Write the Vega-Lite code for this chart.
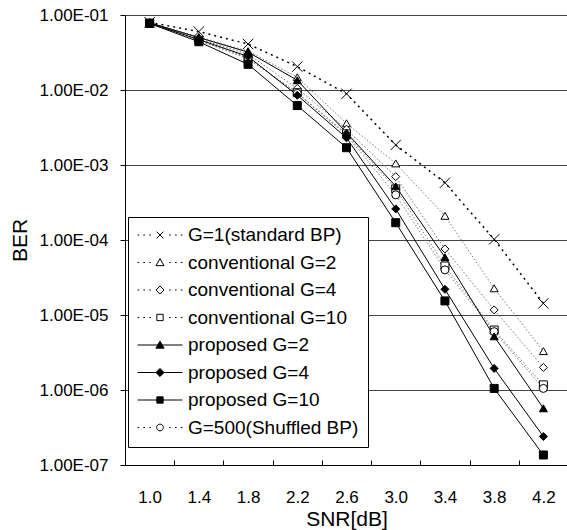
{
  "$schema": "https://vega.github.io/schema/vega-lite/v6.json",
  "width": 443,
  "height": 450,
  "autosize": {"type": "none"},
  "padding": {"left": 125, "top": 15, "right": 0, "bottom": 65},
  "background": "white",
  "config": {
    "font": "Liberation Sans",
    "view": {"stroke": null}
  },
  "data": {"values": [
    {"snr": "1.0", "series": "G=1(standard BP)", "ber": 0.08},
    {"snr": "1.4", "series": "G=1(standard BP)", "ber": 0.06},
    {"snr": "1.8", "series": "G=1(standard BP)", "ber": 0.041},
    {"snr": "2.2", "series": "G=1(standard BP)", "ber": 0.0205},
    {"snr": "2.6", "series": "G=1(standard BP)", "ber": 0.0089},
    {"snr": "3.0", "series": "G=1(standard BP)", "ber": 0.00185},
    {"snr": "3.4", "series": "G=1(standard BP)", "ber": 0.00058},
    {"snr": "3.8", "series": "G=1(standard BP)", "ber": 0.000102},
    {"snr": "4.2", "series": "G=1(standard BP)", "ber": 0.0000143},
    {"snr": "1.0", "series": "conventional G=2", "ber": 0.079},
    {"snr": "1.4", "series": "conventional G=2", "ber": 0.051},
    {"snr": "1.8", "series": "conventional G=2", "ber": 0.033},
    {"snr": "2.2", "series": "conventional G=2", "ber": 0.0148},
    {"snr": "2.6", "series": "conventional G=2", "ber": 0.0036},
    {"snr": "3.0", "series": "conventional G=2", "ber": 0.00105},
    {"snr": "3.4", "series": "conventional G=2", "ber": 0.00021},
    {"snr": "3.8", "series": "conventional G=2", "ber": 0.0000227},
    {"snr": "4.2", "series": "conventional G=2", "ber": 0.0000033},
    {"snr": "1.0", "series": "conventional G=4", "ber": 0.079},
    {"snr": "1.4", "series": "conventional G=4", "ber": 0.048},
    {"snr": "1.8", "series": "conventional G=4", "ber": 0.03},
    {"snr": "2.2", "series": "conventional G=4", "ber": 0.0105},
    {"snr": "2.6", "series": "conventional G=4", "ber": 0.003},
    {"snr": "3.0", "series": "conventional G=4", "ber": 0.0007},
    {"snr": "3.4", "series": "conventional G=4", "ber": 0.000076},
    {"snr": "3.8", "series": "conventional G=4", "ber": 0.0000117},
    {"snr": "4.2", "series": "conventional G=4", "ber": 0.000002},
    {"snr": "1.0", "series": "conventional G=10", "ber": 0.078},
    {"snr": "1.4", "series": "conventional G=10", "ber": 0.046},
    {"snr": "1.8", "series": "conventional G=10", "ber": 0.026},
    {"snr": "2.2", "series": "conventional G=10", "ber": 0.0092},
    {"snr": "2.6", "series": "conventional G=10", "ber": 0.0026},
    {"snr": "3.0", "series": "conventional G=10", "ber": 0.00048},
    {"snr": "3.4", "series": "conventional G=10", "ber": 0.000045},
    {"snr": "3.8", "series": "conventional G=10", "ber": 0.0000063},
    {"snr": "4.2", "series": "conventional G=10", "ber": 0.00000117},
    {"snr": "1.0", "series": "proposed G=2", "ber": 0.079},
    {"snr": "1.4", "series": "proposed G=2", "ber": 0.05},
    {"snr": "1.8", "series": "proposed G=2", "ber": 0.032},
    {"snr": "2.2", "series": "proposed G=2", "ber": 0.0135},
    {"snr": "2.6", "series": "proposed G=2", "ber": 0.0027},
    {"snr": "3.0", "series": "proposed G=2", "ber": 0.00052},
    {"snr": "3.4", "series": "proposed G=2", "ber": 0.000059},
    {"snr": "3.8", "series": "proposed G=2", "ber": 0.0000052},
    {"snr": "4.2", "series": "proposed G=2", "ber": 0.00000057},
    {"snr": "1.0", "series": "proposed G=4", "ber": 0.078},
    {"snr": "1.4", "series": "proposed G=4", "ber": 0.047},
    {"snr": "1.8", "series": "proposed G=4", "ber": 0.028},
    {"snr": "2.2", "series": "proposed G=4", "ber": 0.0085},
    {"snr": "2.6", "series": "proposed G=4", "ber": 0.0023},
    {"snr": "3.0", "series": "proposed G=4", "ber": 0.00026},
    {"snr": "3.4", "series": "proposed G=4", "ber": 0.000022},
    {"snr": "3.8", "series": "proposed G=4", "ber": 0.00000194},
    {"snr": "4.2", "series": "proposed G=4", "ber": 0.00000024},
    {"snr": "1.0", "series": "proposed G=10", "ber": 0.077},
    {"snr": "1.4", "series": "proposed G=10", "ber": 0.044},
    {"snr": "1.8", "series": "proposed G=10", "ber": 0.022},
    {"snr": "2.2", "series": "proposed G=10", "ber": 0.0062},
    {"snr": "2.6", "series": "proposed G=10", "ber": 0.0017},
    {"snr": "3.0", "series": "proposed G=10", "ber": 0.00017},
    {"snr": "3.4", "series": "proposed G=10", "ber": 0.0000154},
    {"snr": "3.8", "series": "proposed G=10", "ber": 0.00000105},
    {"snr": "4.2", "series": "proposed G=10", "ber": 0.000000136},
    {"snr": "1.0", "series": "G=500(Shuffled BP)", "ber": 0.078},
    {"snr": "1.4", "series": "G=500(Shuffled BP)", "ber": 0.046},
    {"snr": "1.8", "series": "G=500(Shuffled BP)", "ber": 0.027},
    {"snr": "2.2", "series": "G=500(Shuffled BP)", "ber": 0.009},
    {"snr": "2.6", "series": "G=500(Shuffled BP)", "ber": 0.0025},
    {"snr": "3.0", "series": "G=500(Shuffled BP)", "ber": 0.0004},
    {"snr": "3.4", "series": "G=500(Shuffled BP)", "ber": 0.00004},
    {"snr": "3.8", "series": "G=500(Shuffled BP)", "ber": 0.000006},
    {"snr": "4.2", "series": "G=500(Shuffled BP)", "ber": 0.00000105}
  ]},
  "encoding": {
    "x": {
      "field": "snr", "type": "ordinal", "bandPosition": 0.5,
      "scale": {"type": "band", "paddingInner": 0, "paddingOuter": 0},
      "axis": {
        "title": "SNR[dB]", "labelAngle": 0, "tickBand": "extent",
        "tickSize": -5, "labelPadding": 29, "labelFontSize": 17, "labelColor": "black",
        "titleFontSize": 21, "titleFontWeight": "normal", "titleColor": "black", "titlePadding": 3,
        "domainColor": "black", "tickColor": "black", "grid": false
      }
    },
    "y": {
      "field": "ber", "type": "quantitative",
      "scale": {"type": "log", "domain": [1e-7, 1e-1], "nice": false},
      "axis": {
        "title": "BER", "values": [1e-7, 1e-6, 1e-5, 1e-4, 1e-3, 1e-2, 1e-1],
        "labelExpr": "'1.00E-0' + round(-log(datum.value)/LN10)",
        "labelFontSize": 17, "labelColor": "black", "labelPadding": 12, "tickSize": 5,
        "titleFontSize": 21, "titleFontWeight": "normal", "titleColor": "black", "titlePadding": 9,
        "grid": true, "gridColor": "#444", "gridOpacity": 1, "gridWidth": 1,
        "domainColor": "black", "tickColor": "black"
      }
    }
  },
  "layer": [
    {
      "transform": [{"filter": "datum.series == 'G=1(standard BP)'"}],
      "mark": {"type": "line", "clip": true, "color": "black", "strokeWidth": 1.5, "strokeDash": [2, 4]},
      "encoding": {"detail": {"field": "series"}}
    },
    {
      "transform": [{"filter": "indexof(['conventional G=2','conventional G=4','conventional G=10','G=500(Shuffled BP)'], datum.series) >= 0"}],
      "mark": {"type": "line", "clip": true, "color": "#777777", "strokeWidth": 1, "strokeDash": [1.5, 2]},
      "encoding": {"detail": {"field": "series"}}
    },
    {
      "transform": [{"filter": "indexof(['proposed G=2','proposed G=4','proposed G=10'], datum.series) >= 0"}],
      "mark": {"type": "line", "clip": true, "color": "black", "strokeWidth": 1},
      "encoding": {"detail": {"field": "series"}}
    },
    {
      "transform": [{"filter": "datum.series == 'G=1(standard BP)'"}],
      "mark": {"type": "point", "shape": "M-1.3,-1.3L1.3,1.3M-1.3,1.3L1.3,-1.3", "size": 64, "filled": false, "stroke": "black", "strokeWidth": 1, "opacity": 1}
    },
    {
      "transform": [{"filter": "datum.series == 'conventional G=2'"}],
      "mark": {"type": "point", "shape": "triangle-up", "size": 64, "filled": true, "fill": "white", "stroke": "black", "strokeWidth": 1, "opacity": 1}
    },
    {
      "transform": [{"filter": "datum.series == 'conventional G=4'"}],
      "mark": {"type": "point", "shape": "diamond", "size": 64, "filled": true, "fill": "white", "stroke": "black", "strokeWidth": 1, "opacity": 1}
    },
    {
      "transform": [{"filter": "datum.series == 'conventional G=10'"}],
      "mark": {"type": "point", "shape": "square", "size": 64, "filled": true, "fill": "white", "stroke": "black", "strokeWidth": 1, "opacity": 1}
    },
    {
      "transform": [{"filter": "datum.series == 'G=500(Shuffled BP)'"}],
      "mark": {"type": "point", "shape": "circle", "size": 64, "filled": true, "fill": "white", "stroke": "black", "strokeWidth": 1, "opacity": 1}
    },
    {
      "transform": [{"filter": "datum.series == 'proposed G=2'"}],
      "mark": {"type": "point", "shape": "triangle-up", "size": 64, "filled": true, "fill": "black", "stroke": "black", "strokeWidth": 1, "opacity": 1}
    },
    {
      "transform": [{"filter": "datum.series == 'proposed G=4'"}],
      "mark": {"type": "point", "shape": "diamond", "size": 64, "filled": true, "fill": "black", "stroke": "black", "strokeWidth": 1, "opacity": 1}
    },
    {
      "transform": [{"filter": "datum.series == 'proposed G=10'"}],
      "mark": {"type": "point", "shape": "square", "size": 64, "filled": true, "fill": "black", "stroke": "black", "strokeWidth": 1, "opacity": 1}
    },
    {
      "transform": [{"filter": "false"}],
      "mark": {"type": "point", "strokeWidth": 1, "opacity": 1},
      "encoding": {
        "shape": {
          "field": "series",
          "scale": {
            "domain": ["G=1(standard BP)", "conventional G=2", "conventional G=4", "conventional G=10", "proposed G=2", "proposed G=4", "proposed G=10", "G=500(Shuffled BP)"],
            "range": [
              "M-1,0L-0.93,0M-0.74,0L-0.67,0M-0.48,0L-0.41,0M0.41,0L0.48,0M0.67,0L0.74,0M0.93,0L1,0M-0.15,-0.15L0.15,0.15M-0.15,0.15L0.15,-0.15",
              "M-1,0L-0.93,0M-0.74,0L-0.67,0M-0.48,0L-0.41,0M0.41,0L0.48,0M0.67,0L0.74,0M0.93,0L1,0M0,-0.17L0.18,0.14L-0.18,0.14Z",
              "M-1,0L-0.93,0M-0.74,0L-0.67,0M-0.48,0L-0.41,0M0.41,0L0.48,0M0.67,0L0.74,0M0.93,0L1,0M0,-0.18L0.18,0L0,0.18L-0.18,0Z",
              "M-1,0L-0.93,0M-0.74,0L-0.67,0M-0.48,0L-0.41,0M0.41,0L0.48,0M0.67,0L0.74,0M0.93,0L1,0M-0.14,-0.14L0.14,-0.14L0.14,0.14L-0.14,0.14Z",
              "M-1,0L1,0M0,-0.17L0.18,0.14L-0.18,0.14Z",
              "M-1,0L1,0M0,-0.18L0.18,0L0,0.18L-0.18,0Z",
              "M-1,0L1,0M-0.14,-0.14L0.14,-0.14L0.14,0.14L-0.14,0.14Z",
              "M-1,0L-0.93,0M-0.74,0L-0.67,0M-0.48,0L-0.41,0M0.41,0L0.48,0M0.67,0L0.74,0M0.93,0L1,0M-0.15,0A0.15,0.15,0,1,1,0.15,0A0.15,0.15,0,1,1,-0.15,0Z"
            ]
          },
          "legend": {
            "title": null, "orient": "none", "legendX": 3, "legendY": 202,
            "strokeColor": "black", "fillColor": "white", "padding": 9, "cornerRadius": 0,
            "labelFontSize": 19, "labelColor": "black", "labelLimit": 300, "labelOffset": 5,
            "rowPadding": 8.5, "clipHeight": 18,
            "symbolSize": 2025, "symbolStrokeWidth": 1, "symbolOpacity": 1
          }
        },
        "fill": {
          "field": "series",
          "scale": {
            "domain": ["G=1(standard BP)", "conventional G=2", "conventional G=4", "conventional G=10", "proposed G=2", "proposed G=4", "proposed G=10", "G=500(Shuffled BP)"],
            "range": ["white", "white", "white", "white", "black", "black", "black", "white"]
          }
        },
        "stroke": {
          "field": "series",
          "scale": {
            "domain": ["G=1(standard BP)", "conventional G=2", "conventional G=4", "conventional G=10", "proposed G=2", "proposed G=4", "proposed G=10", "G=500(Shuffled BP)"],
            "range": ["black", "black", "black", "black", "black", "black", "black", "black"]
          }
        }
      }
    }
  ]
}
